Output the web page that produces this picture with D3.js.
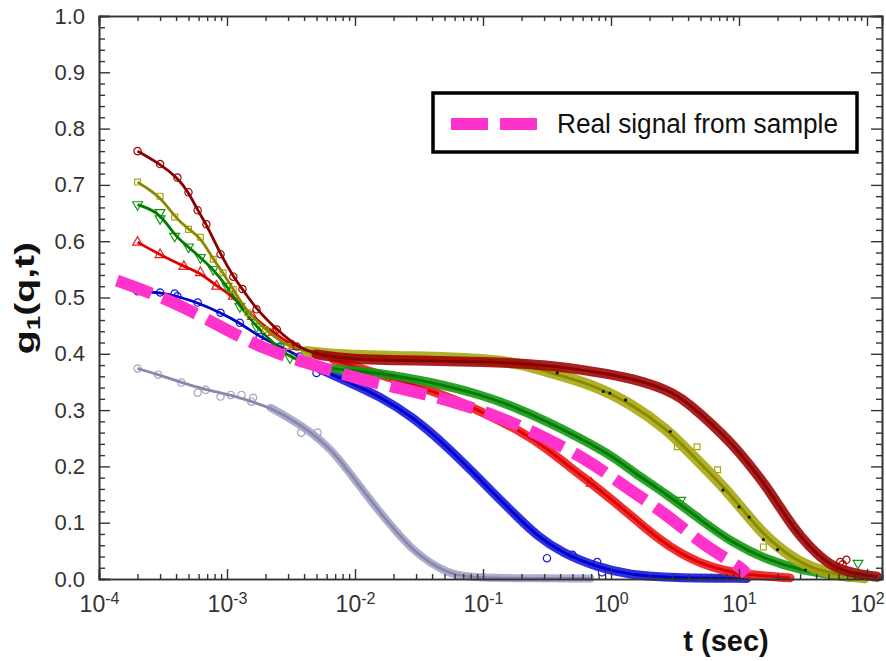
<!DOCTYPE html>
<html>
<head>
<meta charset="utf-8">
<script src="https://cdn.jsdelivr.net/npm/d3@7"></script>
<style>
body { margin: 0; background: #fff; }
svg text { font-family: "Liberation Sans", Arial, sans-serif; }
</style>
</head>
<body>
<div id="container"></div>
<script>
// tick values
var majorT = [1e-4, 1e-3, 1e-2, 1e-1, 1e0, 1e1, 1e2];
var tickExp = ["-4", "-3", "-2", "-1", "0", "1", "2"];
var yTicks = [0, 0.1, 0.2, 0.3, 0.4, 0.5, 0.6, 0.7, 0.8, 0.9, 1.0];

// fitted curves, [t (sec), g1]
var grayFit = [[2e-4,0.374],[2.9e-4,0.363],[4.4e-4,0.349],[6.8e-4,0.336],[1.07e-3,0.327],[1.55e-3,0.315],
  [2.2e-3,0.304],[3.2e-3,0.283],[4.6e-3,0.26],[6.5e-3,0.23],[8.7e-3,0.194],[0.0115,0.158],[0.0158,0.117],
  [0.0214,0.082],[0.0282,0.052],[0.0389,0.028],[0.0525,0.012],[0.069,0.004],[0.15,0.001],[0.69,0.001]];
var blueFit = [[2e-4,0.511],[3e-4,0.509],[4.1e-4,0.502],[5.9e-4,0.491],[8.9e-4,0.473],[1.26e-3,0.455],
  [1.8e-3,0.43],[2.6e-3,0.413],[3.7e-3,0.395],[5.4e-3,0.372],[8.1e-3,0.354],[0.0158,0.324],[0.0282,0.288],
  [0.0525,0.235],[0.083,0.19],[0.129,0.146],[0.186,0.11],[0.263,0.077],[0.417,0.046],[0.78,0.021],
  [1.41,0.007],[3,0.002],[11.5,0.001]];
var redFit = [[2e-4,0.598],[3e-4,0.576],[4.6e-4,0.555],[6.2e-4,0.544],[8.3e-4,0.52],[1.12e-3,0.502],
  [1.58e-3,0.466],[2.3e-3,0.438],[3.3e-3,0.413],[4.7e-3,0.399],[6.8e-3,0.39],[0.0158,0.362],[0.0389,0.336],
  [0.089,0.302],[0.2,0.262],[0.316,0.232],[0.48,0.198],[0.78,0.162],[1.23,0.125],[1.7,0.098],[2.4,0.07],
  [3.5,0.045],[5,0.028],[7.5,0.015],[12.3,0.007],[25,0.002]];
var greenFit = [[2e-4,0.665],[3e-4,0.651],[3.9e-4,0.609],[5e-4,0.59],[6.2e-4,0.571],[7.8e-4,0.55],[1e-3,0.52],
  [1.26e-3,0.484],[1.7e-3,0.448],[2.45e-3,0.413],[3.1e-3,0.393],[5e-3,0.377],[7.6e-3,0.372],[0.0158,0.366],
  [0.0389,0.35],[0.095,0.328],[0.17,0.307],[0.316,0.28],[0.575,0.25],[1.05,0.217],[1.48,0.19],
  [2.75,0.15],[5,0.105],[8.9,0.064],[16.6,0.034],[30.2,0.016],[53.7,0.007],[74,0.003]];
var oliveFit = [[2e-4,0.705],[3e-4,0.68],[3.9e-4,0.643],[5e-4,0.621],[6.2e-4,0.607],[7.8e-4,0.568],
  [9.3e-4,0.544],[1.12e-3,0.514],[1.45e-3,0.473],[2e-3,0.443],[2.95e-3,0.413],[4.2e-3,0.404],[8e-3,0.397],
  [0.03,0.395],[0.1,0.391],[0.2,0.382],[0.295,0.37],[0.69,0.347],[1.48,0.31],[2.75,0.265],[3.9,0.23],
  [5.6,0.194],[8.1,0.156],[10.7,0.123],[14.5,0.087],[20,0.057],[30.2,0.028],[49,0.01],[95,0.002]];
var darkredFit = [[2e-4,0.76],[3e-4,0.737],[4.1e-4,0.713],[5e-4,0.687],[5.9e-4,0.655],[6.9e-4,0.63],
  [8.9e-4,0.577],[1.12e-3,0.537],[1.32e-3,0.515],[1.7e-3,0.479],[2.45e-3,0.443],[3.5e-3,0.413],[5e-3,0.399],
  [8.7e-3,0.39],[0.03,0.388],[0.1,0.386],[0.3,0.381],[0.81,0.367],[1.48,0.356],[2.75,0.336],[3.5,0.322],
  [5,0.294],[7.5,0.256],[10,0.226],[14.5,0.18],[17.4,0.155],[23.4,0.11],[30.2,0.075],[40.7,0.044],
  [53.7,0.022],[77.6,0.01],[120,0.004]];

// stray data points off the fits
var grayPts = [[5.9e-4,0.331],[8.9e-4,0.324],[1.3e-3,0.327],[1.6e-3,0.322],[3.8e-3,0.26],[5.1e-3,0.26]];
var bluePts = [[3.9e-4,0.507],[5e-3,0.366],[0.316,0.037],[0.5,0.043],[0.78,0.03],[0.85,0.012]];
var redPts = [[0.26,0.255],[0.7,0.17]];
var greenPts = [[3e-4,0.64],[3.5,0.14],[85,0.028]];
var olivePts = [[3.3,0.235],[4.7,0.235],[6.8,0.194],[15.5,0.057]];
var darkredPts = [[61.7,0.03],[69,0.034],[64.6,0.026]];
var oliveDots = [[0.38,0.366],[0.87,0.333],[0.98,0.33],[1.3,0.318],[2.9,0.262],[7.5,0.158],[10,0.128],
  [12,0.11],[15.5,0.07],[20,0.052],[33,0.016]];

// magenta dashed line
var signal = [[1.38e-4,0.53],[1.86e-4,0.52],[4.2e-4,0.488],[9.1e-4,0.447],[2e-3,0.407],[4.6e-3,0.381],
  [0.011,0.354],[0.0257,0.336],[0.059,0.315],[0.135,0.288],[0.295,0.253],[0.65,0.212],[1.17,0.171],
  [1.33,0.162],[2.75,0.114],[5.25,0.06],[10.5,0.02],[11.5,0.008]];

var W = 886, H = 661;
var pLeft = 99, pRight = 882, pTop = 16, pBottom = 579;

var x = d3.scaleLog().domain([1e-4, Math.pow(10, 2.117)]).range([pLeft, pRight]);
var y = d3.scaleLinear().domain([0, 1]).range([pBottom, pTop]);

var svg = d3.select("#container").append("svg")
    .attr("width", W)
    .attr("height", H)

var series = [
    {fit: grayFit, pts: grayPts, band: "#a4a4c6", line: "#8888aa", shape: d3.symbolCircle, from: 2.2e-3, bw: 8},
    {fit: blueFit, pts: bluePts, band: "#1a1ae0", line: "#0000cc", shape: d3.symbolCircle, from: 5e-3, bw: 9},
    {fit: redFit, pts: redPts, band: "#f01a1a", line: "#dd0000", shape: d3.symbolTriangle, from: 5e-3, bw: 9},
    {fit: greenFit, pts: greenPts, band: "#159a15", line: "#007a00", shape: d3.symbolTriangle, flip: true, from: 4e-3, bw: 9},
    {fit: oliveFit, pts: olivePts, band: "#a8a812", line: "#8a8a00", shape: d3.symbolSquare, from: 4e-3, bw: 11},
    {fit: darkredFit, pts: darkredPts, band: "#a00808", line: "#8a0000", shape: d3.symbolCircle, from: 4e-3, bw: 10}
];

var line = d3.line()
    .x(function(d) { return x(d[0]) })
    .y(function(d) { return y(d[1]) })
    .curve(d3.curveBasis);

var plot = svg.append("g");

series.forEach(function(s) {
    var g = plot.append("g");
    var sym = d3.symbol().type(s.shape).size(s.shape == d3.symbolSquare ? 34 : 42);

    // dense cloud of measured points
    g.append("path")
        .attr("d", line(s.fit.filter(function(d) { return d[0] >= s.from })))
        .attr("fill", "none")
        .attr("stroke", s.band)
        .attr("stroke-width", s.bw)
        .attr("stroke-linejoin", "round")
        .attr("stroke-linecap", "round")
        .attr("opacity", 0.9);

    g.selectAll("path.pt")
        .data(s.fit.filter(function(d) { return d[0] < s.from && d[1] > 0.01 }).concat(s.pts))
        .enter().append("path")
        .attr("class", "pt")
        .attr("d", sym)
        .attr("transform", function(d) {
            return "translate(" + x(d[0]) + "," + y(d[1]) + ")" + (s.flip ? " rotate(180)" : "")
        })
        .attr("fill", "none")
        .attr("stroke", s.band)
        .attr("stroke-width", 1.2);

    g.append("path")
        .attr("d", line(s.fit))
        .attr("fill", "none")
        .attr("stroke", s.line)
        .attr("stroke-width", 2.8);
});

plot.selectAll("circle.dot")
    .data(oliveDots)
    .enter().append("circle")
    .attr("class", "dot")
    .attr("cx", function(d) { return x(d[0]) })
    .attr("cy", function(d) { return y(d[1]) })
    .attr("r", 1.6)
    .attr("fill", "#111");

plot.append("path")
    .attr("d", line(signal))
    .attr("fill", "none")
    .attr("stroke", "#ff33cc")
    .attr("stroke-width", 12)
    .attr("stroke-dasharray", "37,12");

// axes
var minorT = [];
majorT.forEach(function(t) {
    for (var k = 2; k < 10; k++) {
        if (t * k < x.domain()[1]) minorT.push(t * k);
    }
});
var minorY = d3.range(0, 1.001, 0.02).filter(function(v) { return Math.round(v * 50) % 5 != 0 });

function styleAxis(g) {
    g.select(".domain").attr("stroke", "#333").attr("stroke-width", 1.6);
    g.selectAll(".tick line").attr("stroke", "#333").attr("stroke-width", 1.4);
}

var xb = svg.append("g").attr("transform", "translate(0," + pBottom + ")")
    .call(d3.axisBottom(x).tickValues(majorT).tickSize(-10).tickPadding(17).tickFormat(function() { return "10" }))
    .call(styleAxis);
xb.append("g")
    .call(d3.axisBottom(x).tickValues(minorT).tickSize(-5).tickFormat(""))
    .call(styleAxis);

xb.selectAll(".tick text")
    .attr("fill", "#333")
    .attr("font-size", 23)
    .attr("text-anchor", "middle")
    .each(function(d, i) {
        d3.select(this).append("tspan")
            .attr("dy", -8)
            .attr("font-size", 16)
            .text(tickExp[majorT.indexOf(d)])
    });

var xt = svg.append("g").attr("transform", "translate(0," + pTop + ")")
    .call(d3.axisTop(x).tickValues(majorT).tickSize(-10).tickFormat(""))
    .call(styleAxis);
xt.append("g")
    .call(d3.axisTop(x).tickValues(minorT).tickSize(-5).tickFormat(""))
    .call(styleAxis);

var yl = svg.append("g").attr("transform", "translate(" + pLeft + ",0)")
    .call(d3.axisLeft(y).tickValues(yTicks).tickSize(-11).tickPadding(14).tickFormat(d3.format(".1f")))
    .call(styleAxis);
yl.append("g")
    .call(d3.axisLeft(y).tickValues(minorY).tickSize(-6).tickFormat(""))
    .call(styleAxis);
yl.selectAll(".tick text").attr("fill", "#333").attr("font-size", 22);

var yr = svg.append("g").attr("transform", "translate(" + pRight + ",0)")
    .call(d3.axisRight(y).tickValues(yTicks).tickSize(-11).tickFormat(""))
    .call(styleAxis);
yr.append("g")
    .call(d3.axisRight(y).tickValues(minorY).tickSize(-6).tickFormat(""))
    .call(styleAxis);

// axis titles
svg.append("text")
    .attr("x", 726)
    .attr("y", 651)
    .attr("text-anchor", "middle")
    .attr("font-size", 29)
    .attr("font-weight", "bold")
    .attr("fill", "#111")
    .text("t (sec)");

var yt = svg.append("text")
    .attr("transform", "translate(34,298) rotate(-90) scale(1.45,1)")
    .attr("text-anchor", "middle")
    .attr("font-size", 27)
    .attr("font-weight", "bold")
    .attr("fill", "#111");
yt.append("tspan").text("g");
yt.append("tspan").attr("font-size", 18).attr("dy", 6).text("1");
yt.append("tspan").attr("dy", -6).text("(q,t)");

// legend
var lg = svg.append("g");
lg.append("rect")
    .attr("x", 433).attr("y", 93)
    .attr("width", 424).attr("height", 59)
    .attr("fill", "#fff")
    .attr("stroke", "#000")
    .attr("stroke-width", 3.5);
lg.append("line")
    .attr("x1", 451).attr("x2", 537)
    .attr("y1", 124).attr("y2", 124)
    .attr("stroke", "#ff33cc")
    .attr("stroke-width", 12)
    .attr("stroke-dasharray", "37,12");
lg.append("text")
    .attr("x", 557).attr("y", 133)
    .attr("font-family", "Lato, 'Open Sans', sans-serif")
    .attr("font-size", 27)
    .attr("textLength", 281)
    .attr("lengthAdjust", "spacingAndGlyphs")
    .attr("fill", "#111")
    .text("Real signal from sample");
</script>
</body>
</html>
